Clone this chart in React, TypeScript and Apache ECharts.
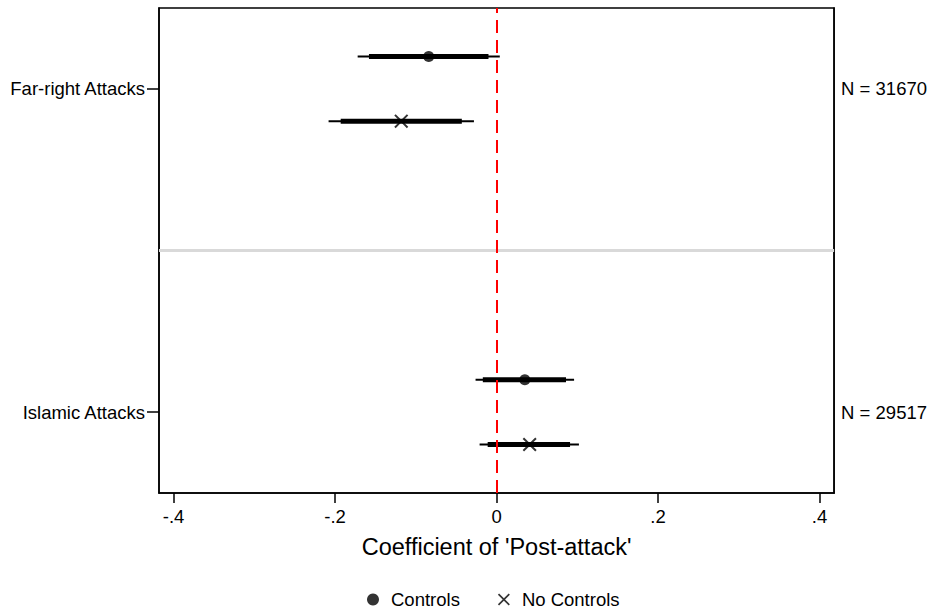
import React, { useEffect, useRef } from "react";
import * as echarts from "echarts";

const rowLabels = ["Far-right Attacks", "Islamic Attacks"];
const rowPositions = [3, 1];
const nLabels = ["N = 31670", "N = 29517"];

const controlsEst = [-0.084, 0.035];
const controlsLo95 = [-0.172, -0.026];
const controlsHi95 = [0.004, 0.096];
const controlsLo90 = [-0.158, -0.017];
const controlsHi90 = [-0.01, 0.086];

const noControlsEst = [-0.118, 0.041];
const noControlsLo95 = [-0.208, -0.021];
const noControlsHi95 = [-0.028, 0.102];
const noControlsLo90 = [-0.193, -0.011];
const noControlsHi90 = [-0.043, 0.091];

const xTicks = [-0.4, -0.2, 0, 0.2, 0.4];

const FONT = "'Liberation Sans', Arial, Helvetica, sans-serif";
const X_PATH =
  "path://M0,1.2L1.2,0L6,4.8L10.8,0L12,1.2L7.2,6L12,10.8L10.8,12L6,7.2L1.2,12L0,10.8L4.8,6Z";

function fmtX(v: number): string {
  if (Math.abs(v) < 1e-9) return "0";
  const s = String(Math.round(Math.abs(v) * 10) / 10).replace(/^0/, "");
  return (v < 0 ? "-" : "") + s;
}

export default function App() {
  const ref = useRef<HTMLDivElement>(null);
  useEffect(() => {
    if (!ref.current) return;
    const chart = echarts.init(ref.current, undefined, { renderer: "svg" });
    const OFF = 0.2;
    const ciData = [
      ...rowPositions.map((p, i) => [controlsLo95[i], controlsHi95[i], controlsLo90[i], controlsHi90[i], p + OFF]),
      ...rowPositions.map((p, i) => [noControlsLo95[i], noControlsHi95[i], noControlsLo90[i], noControlsHi90[i], p - OFF]),
    ];
    const renderItem = (params: any, api: any) => {
      const y = api.value(4);
      const a = api.coord([api.value(0), y]);
      const b = api.coord([api.value(1), y]);
      const c = api.coord([api.value(2), y]);
      const d = api.coord([api.value(3), y]);
      return {
        type: "group",
        children: [
          { type: "line", shape: { x1: a[0], y1: a[1], x2: b[0], y2: b[1] }, style: { stroke: "#000", lineWidth: 2 } },
          { type: "line", shape: { x1: c[0], y1: c[1], x2: d[0], y2: d[1] }, style: { stroke: "#000", lineWidth: 5 } },
        ],
      };
    };
    chart.setOption({
      animation: false,
      backgroundColor: "#fff",
      textStyle: { fontFamily: FONT },
      grid: {
        left: 159,
        right: 93,
        top: 8,
        bottom: 118,
        show: true,
        borderColor: "#000",
        borderWidth: 1.5,
      },
      legend: {
        top: 585,
        left: 362,
        itemWidth: 12,
        itemHeight: 12,
        itemGap: 38,
        textStyle: { fontFamily: FONT, fontSize: 18.5, color: "#000", padding: [0, 0, 0, 7] },
        data: [
          { name: "Controls", icon: "circle", itemStyle: { color: "#000" } },
          { name: "No Controls", icon: X_PATH, itemStyle: { color: "#000" } },
        ],
      },
      xAxis: {
        type: "value",
        min: -0.418,
        max: 0.418,
        name: "Coefficient of 'Post-attack'",
        nameLocation: "middle",
        nameGap: 42,
        nameTextStyle: { fontFamily: FONT, fontSize: 23.5, color: "#000" },
        axisLine: { show: true, onZero: false, lineStyle: { color: "#000", width: 1.5 } },
        axisTick: { show: true, length: 10, customValues: xTicks, lineStyle: { color: "#000", width: 1.5 } },
        axisLabel: {
          customValues: xTicks,
          formatter: (v: number) => fmtX(v),
          fontFamily: FONT,
          fontSize: 18.5,
          color: "#000",
          margin: 14,
        },
        splitLine: { show: false },
      },
      yAxis: [
        {
          type: "value",
          min: 0.5,
          max: 3.5,
          axisLine: { show: true, onZero: false, lineStyle: { color: "#000", width: 1.5 } },
          axisTick: { show: true, length: 12, customValues: rowPositions, lineStyle: { color: "#000", width: 1.5 } },
          axisLabel: {
            customValues: rowPositions,
            formatter: (v: number) => rowLabels[rowPositions.indexOf(Math.round(v))] || "",
            fontFamily: FONT,
            fontSize: 18.5,
            color: "#000",
            margin: 14,
          },
          splitLine: { show: false },
        },
        {
          type: "value",
          position: "right",
          min: 0.5,
          max: 3.5,
          axisLine: { show: true, onZero: false, lineStyle: { color: "#000", width: 1.5 } },
          axisTick: { show: false },
          axisLabel: {
            customValues: rowPositions,
            formatter: (v: number) => nLabels[rowPositions.indexOf(Math.round(v))] || "",
            fontFamily: FONT,
            fontSize: 18.5,
            color: "#000",
            margin: 7,
          },
          splitLine: { show: false },
        },
      ],
      series: [
        {
          type: "custom",
          name: "ci",
          renderItem,
          data: ciData,
          encode: { x: [0, 1, 2, 3], y: 4 },
          z: 2,
          silent: true,
        },
        {
          type: "scatter",
          name: "Controls",
          symbol: "circle",
          symbolSize: 11,
          itemStyle: { color: "#000" },
          data: rowPositions.map((p, i) => [controlsEst[i], p + OFF]),
          z: 3,
          markLine: {
            silent: true,
            symbol: "none",
            label: { show: false },
            z: 1,
            data: [
              { yAxis: 2, lineStyle: { color: "#d9d9d9", width: 3, type: "solid" } },
            ],
          },
        },
        {
          type: "scatter",
          name: "No Controls",
          symbol: X_PATH,
          symbolSize: 14,
          itemStyle: { color: "#000" },
          data: rowPositions.map((p, i) => [noControlsEst[i], p - OFF]),
          z: 3,
          markLine: {
            silent: true,
            symbol: "none",
            label: { show: false },
            z: 10,
            data: [
              { xAxis: 0, lineStyle: { color: "#ff0000", width: 2, type: [13, 7] } },
            ],
          },
        },
      ],
    });
    return () => chart.dispose();
  }, []);
  return (
    <div
      ref={ref}
      style={{ position: "fixed", left: 0, top: 0, width: 930, height: 611, background: "#fff" }}
    />
  );
}
